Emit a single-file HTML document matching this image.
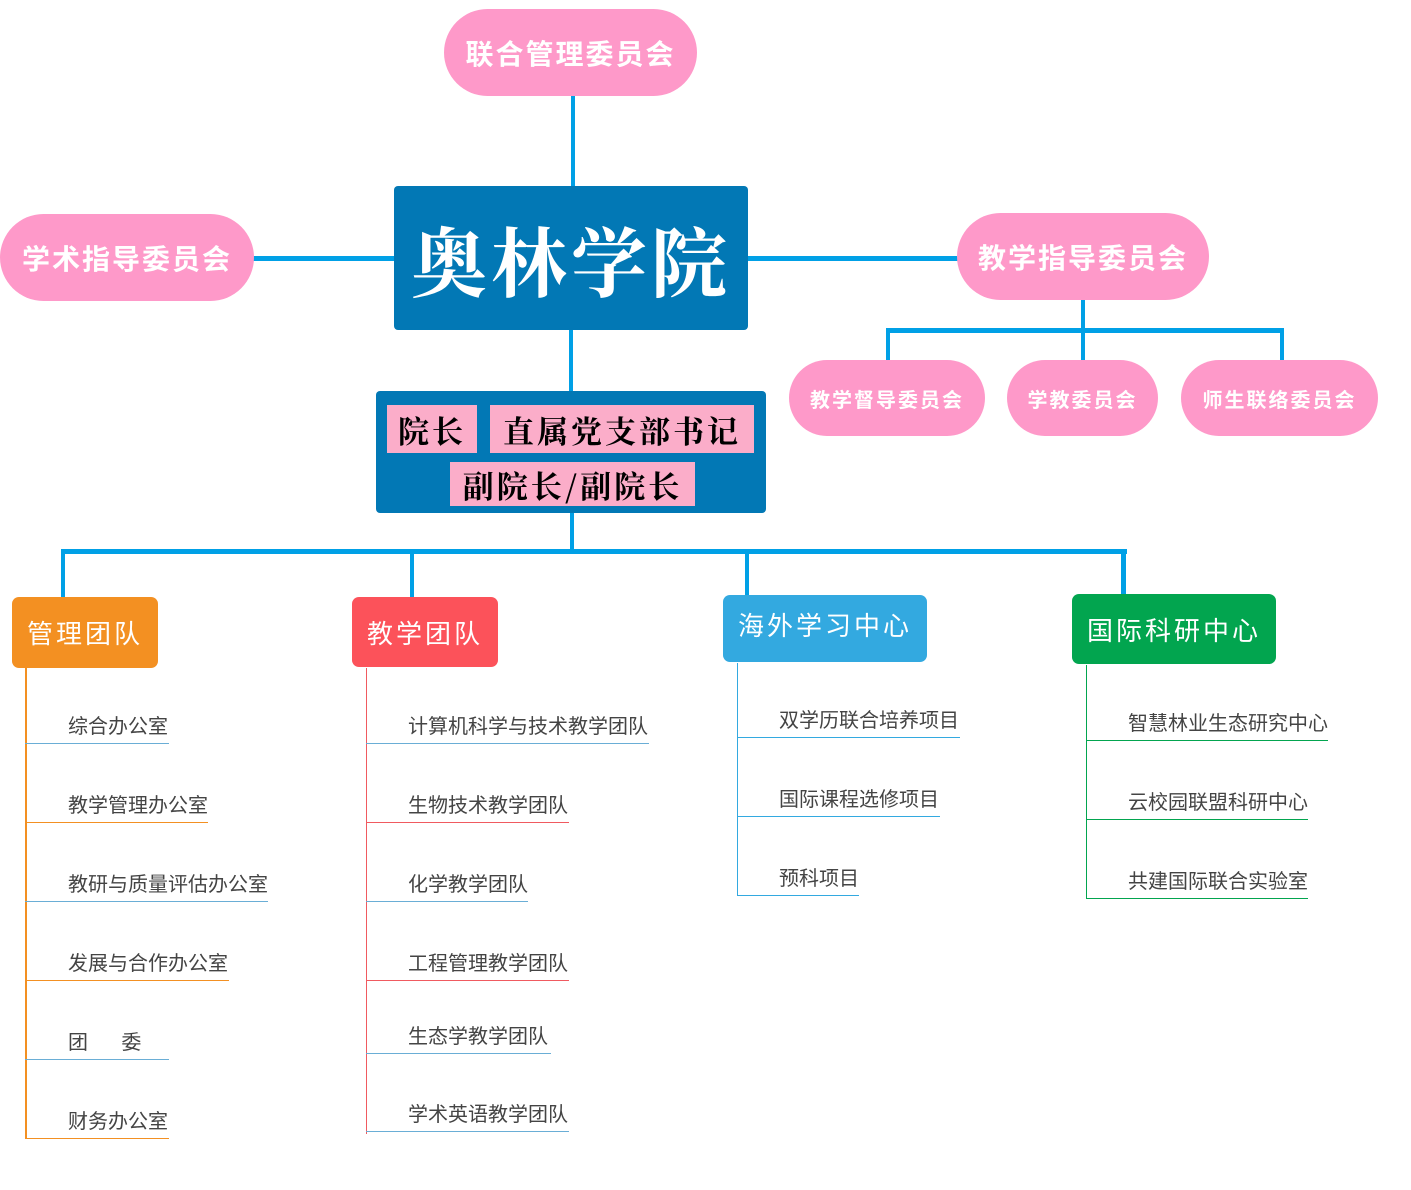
<!DOCTYPE html>
<html><head><meta charset="utf-8"><style>
body{margin:0;width:1411px;height:1190px;background:#fff;position:relative;overflow:hidden;font-family:"Liberation Sans","Noto Sans CJK SC",sans-serif}
.a{position:absolute;box-sizing:border-box}
.pill{background:#fe99c9;border-radius:44px;color:#fff;font-weight:bold;display:flex;align-items:center;justify-content:center;letter-spacing:2px}
.h{background:#00a0e6}
.box{border-radius:7px;color:#fff;display:flex;align-items:center;justify-content:center;font-size:26px;letter-spacing:3px}
.t{position:absolute;font-size:20px;color:#444;white-space:nowrap;margin-top:-3px}
.pk{position:absolute;background:#fbadc9;color:#000;font-family:"Noto Serif CJK SC",serif;font-weight:bold;font-size:31px;display:flex;align-items:center;justify-content:center;letter-spacing:3px}
</style></head><body>
<div class="a h" style="left:571px;top:95px;width:4px;height:92px"></div>
<div class="a h" style="left:253px;top:256px;width:142px;height:5px"></div>
<div class="a h" style="left:747px;top:256px;width:212px;height:5px"></div>
<div class="a h" style="left:569px;top:329px;width:4px;height:62px"></div>
<div class="a h" style="left:1081px;top:298px;width:4px;height:62px"></div>
<div class="a h" style="left:886px;top:328px;width:398px;height:5px"></div>
<div class="a h" style="left:886px;top:328px;width:4px;height:32px"></div>
<div class="a h" style="left:1280px;top:328px;width:4px;height:32px"></div>
<div class="a h" style="left:570px;top:512px;width:4px;height:40px"></div>
<div class="a h" style="left:61px;top:549px;width:1066px;height:5px"></div>
<div class="a h" style="left:61px;top:549px;width:4px;height:49px"></div>
<div class="a h" style="left:410px;top:549px;width:4px;height:49px"></div>
<div class="a h" style="left:745px;top:549px;width:4px;height:47px"></div>
<div class="a h" style="left:1121px;top:549px;width:5px;height:46px"></div>

<div class="a pill" style="left:444px;top:9px;width:253px;height:87px;font-size:28px">联合管理委员会</div>
<div class="a pill" style="left:0px;top:214px;width:254px;height:87px;font-size:28px">学术指导委员会</div>
<div class="a pill" style="left:957px;top:213px;width:252px;height:87px;font-size:28px">教学指导委员会</div>
<div class="a pill" style="left:789px;top:360px;width:196px;height:76px;font-size:20px">教学督导委员会</div>
<div class="a pill" style="left:1007px;top:360px;width:151px;height:76px;font-size:20px">学教委员会</div>
<div class="a pill" style="left:1181px;top:360px;width:197px;height:76px;font-size:20px">师生联络委员会</div>

<div class="a" style="left:394px;top:186px;width:354px;height:144px;background:#0278b5;border-radius:4px;color:#fff;font-family:'Noto Serif CJK SC',serif;font-weight:bold;font-size:76px;display:flex;align-items:center;justify-content:center;letter-spacing:4px">奥林学院</div>

<div class="a" style="left:376px;top:391px;width:390px;height:122px;background:#0278b5;border-radius:4px"></div>
<div class="pk" style="left:387px;top:405px;width:90px;height:48px">院长</div>
<div class="pk" style="left:490px;top:405px;width:264px;height:48px">直属党支部书记</div>
<div class="pk" style="left:450px;top:462px;width:245px;height:44px">副院长/副院长</div>

<div class="a box" style="left:12px;top:597px;width:146px;height:71px;background:#f39022">管理团队</div>
<div class="a box" style="left:352px;top:597px;width:146px;height:70px;background:#fc525a">教学团队</div>
<div class="a box" style="left:723px;top:595px;width:204px;height:67px;background:#33a9e0;padding-bottom:8px">海外学习中心</div>
<div class="a box" style="left:1072px;top:594px;width:204px;height:70px;background:#02a54f">国际科研中心</div>

<div class="a" style="left:25px;top:668px;width:2px;height:471px;background:#f39022"></div>
<div class="a" style="left:366px;top:668px;width:1px;height:466px;background:#f05a60"></div>
<div class="a" style="left:737px;top:663px;width:1px;height:233px;background:#33a9e0"></div>
<div class="a" style="left:1086px;top:665px;width:1px;height:234px;background:#02a54f"></div>

<div class="t" style="left:68px;top:713px">综合办公室</div><div class="a" style="left:25px;top:743px;width:144px;height:1px;background:#6aaed6"></div>
<div class="t" style="left:68px;top:792px">教学管理办公室</div><div class="a" style="left:25px;top:822px;width:183px;height:1px;background:#f39022"></div>
<div class="t" style="left:68px;top:871px">教研与质量评估办公室</div><div class="a" style="left:25px;top:901px;width:243px;height:1px;background:#6aaed6"></div>
<div class="t" style="left:68px;top:950px">发展与合作办公室</div><div class="a" style="left:25px;top:980px;width:204px;height:1px;background:#f39022"></div>
<div class="t" style="left:68px;top:1029px">团&nbsp;&nbsp;&nbsp;&nbsp;&nbsp;&nbsp;委</div><div class="a" style="left:25px;top:1059px;width:144px;height:1px;background:#6aaed6"></div>
<div class="t" style="left:68px;top:1108px">财务办公室</div><div class="a" style="left:25px;top:1138px;width:144px;height:1px;background:#f39022"></div>

<div class="t" style="left:408px;top:713px">计算机科学与技术教学团队</div><div class="a" style="left:366px;top:743px;width:283px;height:1px;background:#6aaed6"></div>
<div class="t" style="left:408px;top:792px">生物技术教学团队</div><div class="a" style="left:366px;top:822px;width:203px;height:1px;background:#f05a60"></div>
<div class="t" style="left:408px;top:871px">化学教学团队</div><div class="a" style="left:366px;top:901px;width:162px;height:1px;background:#6aaed6"></div>
<div class="t" style="left:408px;top:950px">工程管理教学团队</div><div class="a" style="left:366px;top:980px;width:203px;height:1px;background:#f05a60"></div>
<div class="t" style="left:408px;top:1023px">生态学教学团队</div><div class="a" style="left:366px;top:1053px;width:185px;height:1px;background:#6aaed6"></div>
<div class="t" style="left:408px;top:1101px">学术英语教学团队</div><div class="a" style="left:366px;top:1131px;width:203px;height:1px;background:#6aaed6"></div>

<div class="t" style="left:779px;top:707px">双学历联合培养项目</div><div class="a" style="left:737px;top:737px;width:223px;height:1px;background:#33a9e0"></div>
<div class="t" style="left:779px;top:786px">国际课程选修项目</div><div class="a" style="left:737px;top:816px;width:203px;height:1px;background:#33a9e0"></div>
<div class="t" style="left:779px;top:865px">预科项目</div><div class="a" style="left:737px;top:895px;width:122px;height:1px;background:#33a9e0"></div>

<div class="t" style="left:1128px;top:710px">智慧林业生态研究中心</div><div class="a" style="left:1086px;top:740px;width:242px;height:1px;background:#02a54f"></div>
<div class="t" style="left:1128px;top:789px">云校园联盟科研中心</div><div class="a" style="left:1086px;top:819px;width:222px;height:1px;background:#02a54f"></div>
<div class="t" style="left:1128px;top:868px">共建国际联合实验室</div><div class="a" style="left:1086px;top:898px;width:222px;height:1px;background:#02a54f"></div>
</body></html>
